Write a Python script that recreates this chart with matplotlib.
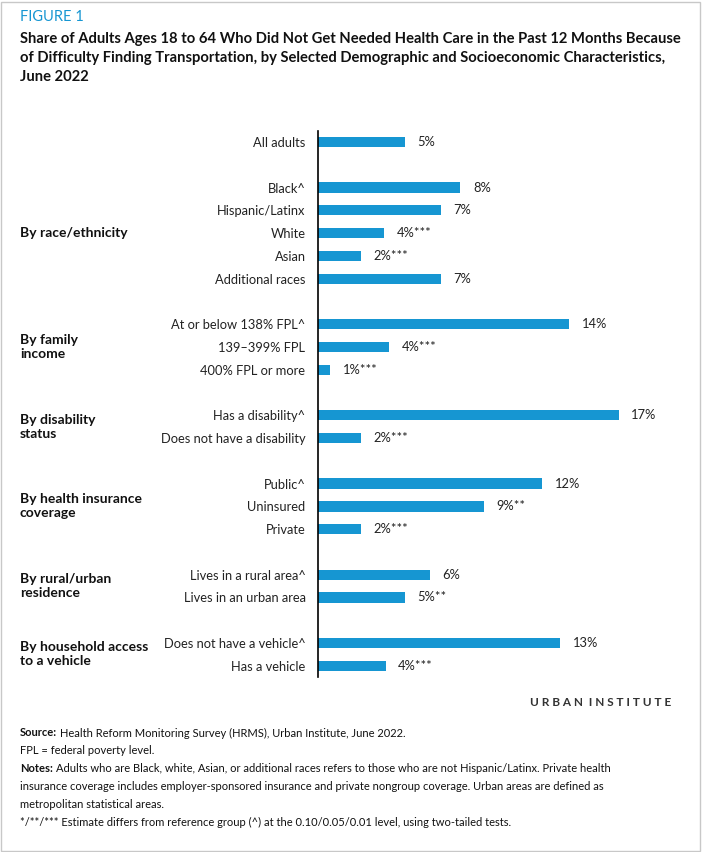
import matplotlib
matplotlib.use("Agg")
import matplotlib.pyplot as plt
import matplotlib.transforms as mtrans
from matplotlib.patches import Rectangle

plt.rcParams['font.family'] = ['Lato', 'DejaVu Sans']

categories = ["All adults", "Black^", "Hispanic/Latinx", "White", "Asian", "Additional races",
              "At or below 138% FPL^", "139–399% FPL", "400% FPL or more",
              "Has a disability^", "Does not have a disability",
              "Public^", "Uninsured", "Private",
              "Lives in a rural area^", "Lives in an urban area",
              "Does not have a vehicle^", "Has a vehicle"]
values = [4.9, 8.0, 6.9, 3.7, 2.4, 6.9, 14.1, 4.0, 0.7, 16.9, 2.4, 12.6, 9.3, 2.4, 6.3, 4.9, 13.6, 3.8]
value_labels = ["5%", "8%", "7%", "4%***", "2%***", "7%", "14%", "4%***", "1%***", "17%", "2%***",
                "12%", "9%**", "2%***", "6%", "5%**", "13%", "4%***"]
group_sizes = [1, 5, 3, 2, 3, 2, 2]
group_labels = ["", "By race/ethnicity", "By family\nincome", "By disability\nstatus",
                "By health insurance\ncoverage", "By rural/urban\nresidence", "By household access\nto a vehicle"]

W, H = 702, 852
fig = plt.figure(figsize=(W/100, H/100), dpi=100)
fig.add_artist(Rectangle((1/W, 1/H), 1-3/W, 1-3/H, transform=fig.transFigure,
                         fill=False, edgecolor="#c8c8c8", lw=1))

BLUE = "#1696d2"
ypos, groups_y = [], []
p = 0
for gs in group_sizes:
    g = []
    for i in range(gs):
        ypos.append(p); g.append(p); p += 1
    groups_y.append(g)
    p += 1

ax_left, ax_right, ax_top, ax_bot = 318, 660, 130.6, 677.2
ax = fig.add_axes([ax_left/W, 1-ax_bot/H, (ax_right-ax_left)/W, (ax_bot-ax_top)/H])
ax.barh(ypos, values, height=0.45, color=BLUE)
ax.set_ylim(ypos[-1]+0.5, -0.5)
ax.set_xlim(0, (ax_right-ax_left)/17.8)
for s in ["top", "right", "bottom"]:
    ax.spines[s].set_visible(False)
ax.spines["left"].set_color("#000000")
ax.spines["left"].set_linewidth(1.2)
ax.set_xticks([])
ax.set_yticks(ypos)
ax.set_yticklabels(categories, fontsize=9.3, color="#222222")
ax.tick_params(axis="y", length=0, pad=9)
for y, v, l in zip(ypos, values, value_labels):
    ax.annotate(l, (v, y), xytext=(9, 0), textcoords="offset points", va="center",
                fontsize=9.3, color="#222222")
bt = mtrans.blended_transform_factory(fig.transFigure, ax.transData)
for g, lab in zip(groups_y, group_labels):
    if lab:
        yc = (g[0]+g[-1])/2
        ax.text(20/W, yc, lab, transform=bt, ha="left", va="center", fontsize=10,
                fontweight="bold", color="#111111", linespacing=1.2)

fig.text(20/W, 1-17/H, "FIGURE 1", color=BLUE, fontsize=10.5, va="center")
fig.text(20/W, 1-58/H, "Share of Adults Ages 18 to 64 Who Did Not Get Needed Health Care in the Past 12 Months Because\n"
         "of Difficulty Finding Transportation, by Selected Demographic and Socioeconomic Characteristics,\nJune 2022",
         fontsize=10.6, fontweight="bold", va="center", linespacing=1.45, color="#111111")

t1 = fig.text(530/W, 1-702/H, "U R B A N", ha="left", va="center", fontsize=8.5, fontweight="bold", color="#333333")
plt.annotate("  I N S T I T U T E", xy=(1, 0.5), xycoords=t1, va="center", fontsize=8.5,
             fontweight="bold", color="#333333")

def rich(y, bold, rest):
    t = fig.text(20/W, 1-y/H, bold, fontsize=8, fontweight="bold", va="center", color="#111111")
    plt.annotate(rest, xy=(1, 0.5), xycoords=t, xytext=(2, 0), textcoords="offset points",
                 va="center", fontsize=8, color="#111111")

rich(733, "Source:", "Health Reform Monitoring Survey (HRMS), Urban Institute, June 2022.")
fig.text(20/W, 1-751/H, "FPL = federal poverty level.", fontsize=8, va="center", color="#111111")
rich(769, "Notes:", "Adults who are Black, white, Asian, or additional races refers to those who are not Hispanic/Latinx. Private health")
fig.text(20/W, 1-787/H, "insurance coverage includes employer-sponsored insurance and private nongroup coverage. Urban areas are defined as",
         fontsize=8, va="center", color="#111111")
fig.text(20/W, 1-804/H, "metropolitan statistical areas.", fontsize=8, va="center", color="#111111")
fig.text(20/W, 1-822/H, "*/**/*** Estimate differs from reference group (^) at the 0.10/0.05/0.01 level, using two-tailed tests.",
         fontsize=8, va="center", color="#111111")

fig.savefig("out.png", dpi=100)
